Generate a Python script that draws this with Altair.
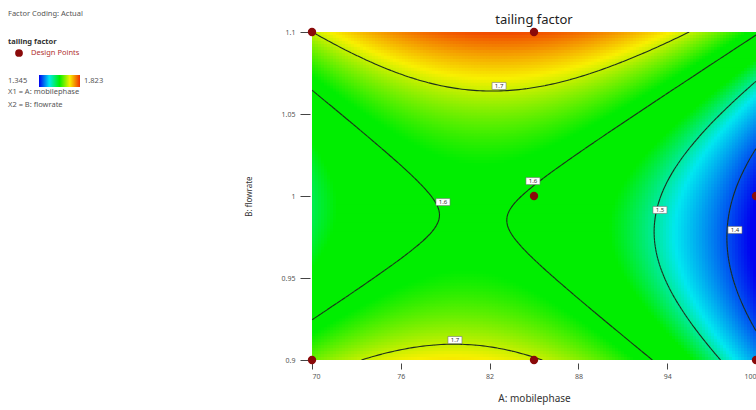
import altair as alt
import numpy as np
import pandas as pd

# ---- data ----
# quadratic response-surface model in coded factors a=(A-85)/15, b=(B-1)/0.1
coef_names = ["const", "A", "B", "AB", "A2", "B2"]
coef_values = [1.596, -0.080, 0.0515, 0.0339, -0.154, 0.160]
A_range = [70, 100]
B_range = [0.9, 1.1]
x_ticks = [70, 76, 82, 88, 94, 100]
y_ticks = [0.9, 0.95, 1.0, 1.05, 1.1]
contour_levels = [1.4, 1.5, 1.6, 1.7]
label_text = ["1.7", "1.6", "1.6", "1.7", "1.5", "1.4"]
label_A = [82.64, 78.85, 84.93, 79.66, 93.51, 98.58]
label_B = [1.0671, 0.9963, 1.0091, 0.9122, 0.9915, 0.9793]
design_A = [70, 85, 70, 85, 100, 100, 85]
design_B = [1.1, 1.1, 0.9, 0.9, 0.9, 1.0, 1.0]
color_min, color_max = 1.345, 1.823
legend_stops = ["#0000f0", "#00e8f0", "#00f000", "#f8f000", "#f03000"]
surface_stops = ["#0000f0", "#00e8f0", "#00ee00", "#00ee00", "#f8f000", "#f03000"]
surface_stop_values = [1.36, 1.475, 1.545, 1.62, 1.72, 1.823]
legend_lines = ["Factor Coding: Actual", "tailing factor", "Design Points",
                "X1 = A: mobilephase", "X2 = B: flowrate"]
title_text = "tailing factor"
FONT = "Noto Sans"

c = dict(zip(coef_names, coef_values))


def model(A, B):
    a = (A - 85.0) / 15.0
    b = (B - 1.0) / 0.1
    return (c["const"] + c["A"] * a + c["B"] * b + c["AB"] * a * b
            + c["A2"] * a * a + c["B2"] * b * b)


# ---- grid ----
NX, NY = 148, 110
xs = np.linspace(A_range[0], A_range[1], NX + 1)
ys = np.linspace(B_range[0], B_range[1], NY + 1)
XX, YY = np.meshgrid(xs, ys)
F = model(XX, YY)
dx = xs[1] - xs[0]
dy = ys[1] - ys[0]
rows = []
for j in range(NY):
    for i in range(NX):
        xc = xs[i] + dx / 2
        yc = ys[j] + dy / 2
        rows.append((xs[i], xs[i + 1] + dx * 0.3, ys[j], ys[j + 1] + dy * 0.3,
                     float(model(xc, yc))))
cells = pd.DataFrame(rows, columns=["x0", "x1", "y0", "y1", "v"])

# ---- marching squares contours ----
segs = []
for L in contour_levels:
    for j in range(NY):
        for i in range(NX):
            pts = [(xs[i], ys[j], F[j, i]), (xs[i + 1], ys[j], F[j, i + 1]),
                   (xs[i + 1], ys[j + 1], F[j + 1, i + 1]), (xs[i], ys[j + 1], F[j + 1, i])]
            cross = []
            for k in range(4):
                p, q = pts[k], pts[(k + 1) % 4]
                if (p[2] - L) * (q[2] - L) < 0:
                    t = (L - p[2]) / (q[2] - p[2])
                    cross.append((p[0] + t * (q[0] - p[0]), p[1] + t * (q[1] - p[1])))
            if len(cross) == 2:
                segs.append((cross[0][0], cross[0][1], cross[1][0], cross[1][1]))
            elif len(cross) == 4:
                segs.append((cross[0][0], cross[0][1], cross[1][0], cross[1][1]))
                segs.append((cross[2][0], cross[2][1], cross[3][0], cross[3][1]))
segdf = pd.DataFrame(segs, columns=["xa", "ya", "xb", "yb"])

labels = pd.DataFrame({"x": label_A, "y": label_B, "t": label_text})
design = pd.DataFrame({"x": design_A, "y": design_B})

n = len(legend_stops)

xscale = alt.Scale(domain=A_range, nice=False, zero=False)
yscale = alt.Scale(domain=B_range, nice=False, zero=False)

xaxis = alt.Axis(values=x_ticks, labelExpr="'' + datum.value", labelFontSize=7,
                 labelColor="#555", tickColor="#444", tickSize=6, offset=3,
                 domain=False, grid=False, labelPadding=3, titleFontSize=10,
                 titleFontWeight="normal", titleColor="#333", titlePadding=14,
                 labelFont=FONT, titleFont=FONT)
yaxis = alt.Axis(values=y_ticks, labelExpr="'' + datum.value", labelFontSize=7,
                 labelColor="#555", tickColor="#444", tickSize=10, offset=2,
                 domain=False, grid=False, labelPadding=5, titleFontSize=8,
                 titleFontWeight="normal", titleColor="#333", titlePadding=28,
                 labelFont=FONT, titleFont=FONT)

heat = alt.Chart(cells).mark_rect(clip=True, strokeWidth=0).encode(
    x=alt.X("x0:Q", scale=xscale, axis=xaxis, title="A: mobilephase"),
    x2="x1:Q",
    y=alt.Y("y0:Q", scale=yscale, axis=yaxis, title="B: flowrate"),
    y2="y1:Q",
    color=alt.Color("v:Q", scale=alt.Scale(domain=surface_stop_values, range=surface_stops,
                                           interpolate="rgb", clamp=True), legend=None),
)

lines = alt.Chart(segdf).mark_rule(color="#1c2e1c", strokeWidth=1.1, clip=True).encode(
    x="xa:Q", y="ya:Q", x2="xb:Q", y2="yb:Q")

box_shape = "M-1,-0.5L1,-0.5L1,0.5L-1,0.5Z"
lbox = alt.Chart(labels).mark_point(shape=box_shape, size=196, filled=True,
                                    fill="white", stroke="#777", strokeWidth=0.6,
                                    opacity=1).encode(x="x:Q", y="y:Q")
ltext = alt.Chart(labels).mark_text(fontSize=6, font=FONT, color="#333").encode(
    x="x:Q", y="y:Q", text="t:N")

pts = alt.Chart(design).mark_point(shape="circle", size=70, filled=True,
                                   color="#8a0a0a", opacity=1, clip=False).encode(
    x="x:Q", y="y:Q")

OX, OY = 312, 32


def txt(s, px, py, size=8, weight="normal", color="#444", align="left"):
    return alt.Chart(pd.DataFrame({"t": [s]})).mark_text(
        fontSize=size, fontWeight=weight, color=color, align=align,
        baseline="middle", font=FONT).encode(
        x=alt.value(px - OX), y=alt.value(py - OY), text="t:N")


title = txt(title_text, 534, 20, size=13, color="#222", align="center")
leg = [
    txt(legend_lines[0], 8, 14, size=7.5, color="#555"),
    txt(legend_lines[1], 8, 42, size=7.5, weight="bold", color="#333"),
    txt(legend_lines[2], 31, 53, size=7.5, color="#b03030"),
    txt(f"{color_min:.3f}", 8, 81, size=7.5, color="#555"),
    txt(f"{color_max:.3f}", 84, 81, size=7.5, color="#555"),
    txt(legend_lines[3], 8, 92, size=7.5, color="#555"),
    txt(legend_lines[4], 8, 105, size=7.5, color="#555"),
]
legdot = alt.Chart(pd.DataFrame({"t": [0]})).mark_point(
    shape="circle", size=60, filled=True, color="#8a0a0a", opacity=1).encode(
    x=alt.value(19 - OX), y=alt.value(53 - OY))
grad = alt.LinearGradient(
    gradient="linear", x1=0, x2=1, y1=0, y2=0,
    stops=[alt.GradientStop(color=col, offset=k / (n - 1)) for k, col in enumerate(legend_stops)])
cbar = alt.Chart(pd.DataFrame({"t": [0]})).mark_rect(color=grad).encode(
    x=alt.value(39 - OX), x2=alt.value(80 - OX), y=alt.value(75 - OY), y2=alt.value(87 - OY))

chart = alt.layer(heat, lines, lbox, ltext, pts, title, legdot, cbar, *leg).properties(
    width=444, height=328,
    autosize=alt.AutoSizeParams(type="none"),
    padding={"left": OX, "top": OY, "right": 0, "bottom": 50},
    background="white",
).configure_view(stroke=None)

chart.save("out.html", embed_options={"renderer": "svg", "actions": False})
